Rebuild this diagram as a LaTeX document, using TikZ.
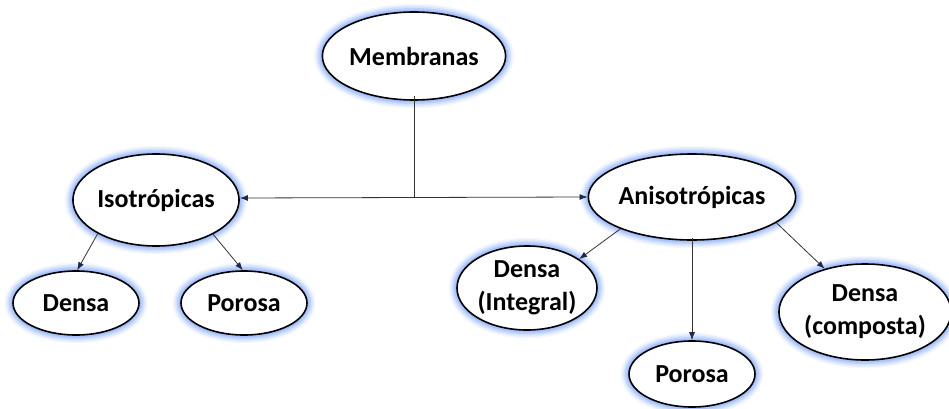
\documentclass[tikz,border=0pt]{standalone}
\usepackage{fontspec}
\setmainfont{Carlito}
\usetikzlibrary{shapes.geometric,arrows.meta,calc}
\definecolor{glowblue}{RGB}{125,165,250}
\definecolor{tipblue}{RGB}{30,40,80}
\tikzset{
  bubble/.style={
    ellipse, inner sep=0pt, align=center,
    font=\fontsize{26}{33}\selectfont\bfseries,
    preaction={draw=glowblue, line width=17pt, opacity=0.08},
    preaction={draw=glowblue, line width=14pt, opacity=0.12},
    preaction={draw=glowblue, line width=11pt, opacity=0.18},
    preaction={draw=glowblue, line width=8pt, opacity=0.26},
    preaction={draw=glowblue, line width=5pt, opacity=0.34},
    fill=white, draw=black, line width=1.6pt},
  link/.style={draw=black!80, line width=0.8pt},
  arrowlink/.style={link, -{Latex[length=8pt,width=6pt,color=tipblue]}},
}
\begin{document}
\begin{tikzpicture}[x=1pt,y=-1pt]
  \useasboundingbox (0,0) rectangle (949,409);

  % main classes
  \node[bubble, minimum width=164pt, minimum height=88pt] (mem) at (414,56) {Membranas};
  \node[bubble, minimum width=162pt, minimum height=92pt] (iso) at (156,200) {Isotrópicas};
  \node[bubble, minimum width=192pt, minimum height=86pt] (ani) at (692,197) {Anisotrópicas};

  % isotropic subtypes
  \node[bubble, minimum width=126pt, minimum height=64pt] (isoD) at (76,303) {Densa};
  \node[bubble, minimum width=126pt, minimum height=64pt] (isoP) at (244,303) {Porosa};

  % anisotropic subtypes
  \node[bubble, minimum width=140pt, minimum height=84pt] (aniI) at (527,288) {Densa\\(Integral)};
  \node[bubble, minimum width=126pt, minimum height=66pt] (aniP) at (692,374) {Porosa};
  \node[bubble, minimum width=164pt, minimum height=96pt] (aniC) at (865,312) {Densa\\(composta)};

  % split of the root into the two classes
  \coordinate (j) at ($([yshift=2pt]iso.east)!0.49!(ani.west)$);
  \draw[link] ([yshift=5pt]mem.south) -- (mem.south |- j);
  \draw[link, {Latex[length=8pt,width=6pt,color=tipblue]}-{Latex[length=8pt,width=6pt,color=tipblue]}]
    ([yshift=2pt]iso.east) -- (ani.west);

  % branches to the subtypes
  \draw[arrowlink] (iso.210) -- (isoD.88);
  \draw[arrowlink] (iso.329) -- (isoP.92);
  \draw[arrowlink] (ani.204) -- (aniI.29);
  \draw[arrowlink] ([yshift=3pt]ani.south) -- (aniP.north);
  \draw[arrowlink] (ani.343) -- (aniC.133);
\end{tikzpicture}
\end{document}
